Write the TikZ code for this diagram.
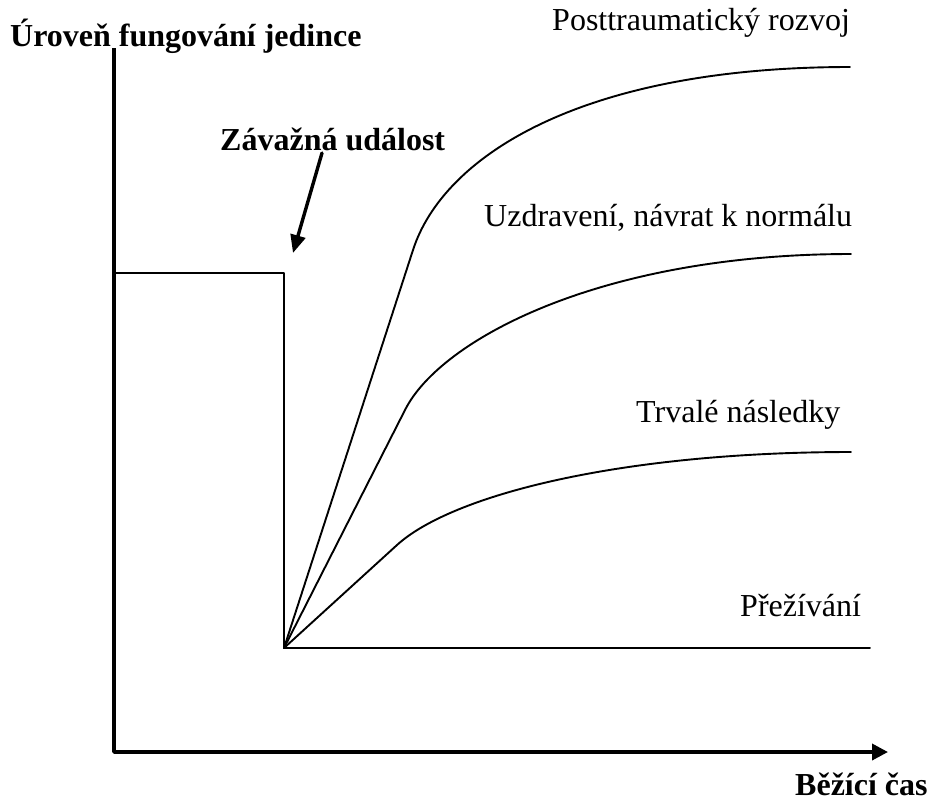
\documentclass[tikz,border=0pt]{standalone}
\usepackage{fontspec}
\setmainfont{Liberation Serif}
\usetikzlibrary{arrows.meta}
\begin{document}
\begin{tikzpicture}[x=1pt,y=-1pt,line join=round,line cap=round,font=\fontsize{32}{36}\selectfont]
	\tikzset{axis/.style={line width=3.6pt},
		curve/.style={line width=1.9pt},
		lbl/.style={anchor=base west,inner sep=0pt},
		blbl/.style={lbl,font=\fontsize{32}{36}\selectfont\bfseries}}
	\useasboundingbox (0,0) rectangle (931,807);
	% axes
	\coordinate (ytop) at (114,48);
	\coordinate (O) at (114,752);
	\coordinate (xend) at (888,752);
	\draw[axis,line cap=butt,-{Triangle[length=16pt,width=16pt]}] (ytop)--(O)--(xend);
	% before the event
	\coordinate (a0) at (114,273);
	\coordinate (a1) at (284,273);
	\coordinate (S) at (284,648);
	\draw[curve] (a0)--(a1)--(S);
	% the four outcomes
	\coordinate (pk) at (413,250);
	\coordinate (pe) at (850,67);
	\draw[curve] (S)--(pk) .. controls (443,157) and (580,67) .. (pe);
	\coordinate (uk) at (405,410);
	\coordinate (ue) at (851,254);
	\draw[curve] (S)--(uk) .. controls (440,340) and (600,254) .. (ue);
	\coordinate (tk) at (397,545);
	\coordinate (te) at (851,452);
	\draw[curve] (S)--(tk) .. controls (452,495) and (620,452) .. (te);
	\coordinate (ze) at (870,648);
	\draw[curve] (S)--(ze);
	% event arrow
	\coordinate (ev0) at (322,153);
	\coordinate (ev1) at (293,253);
	\draw[line width=3.4pt,-{Triangle[length=18pt,width=15pt]}] (ev0)--(ev1);
	% texts
	\node[blbl] (ylab) at (10,46) {Úroveň fungování jedince};
	\node[blbl] (xlab) at (795,795) {Běžící čas};
	\node[blbl] (ev) at (220,150) {Závažná událost};
	\node[lbl] (p) at (552,30) {Posttraumatický rozvoj};
	\node[lbl] (u) at (484,226) {Uzdravení, návrat k normálu};
	\node[lbl] (t) at (636,422) {Trvalé následky};
	\node[lbl] (z) at (740,616) {Přežívání};
\end{tikzpicture}
\end{document}
